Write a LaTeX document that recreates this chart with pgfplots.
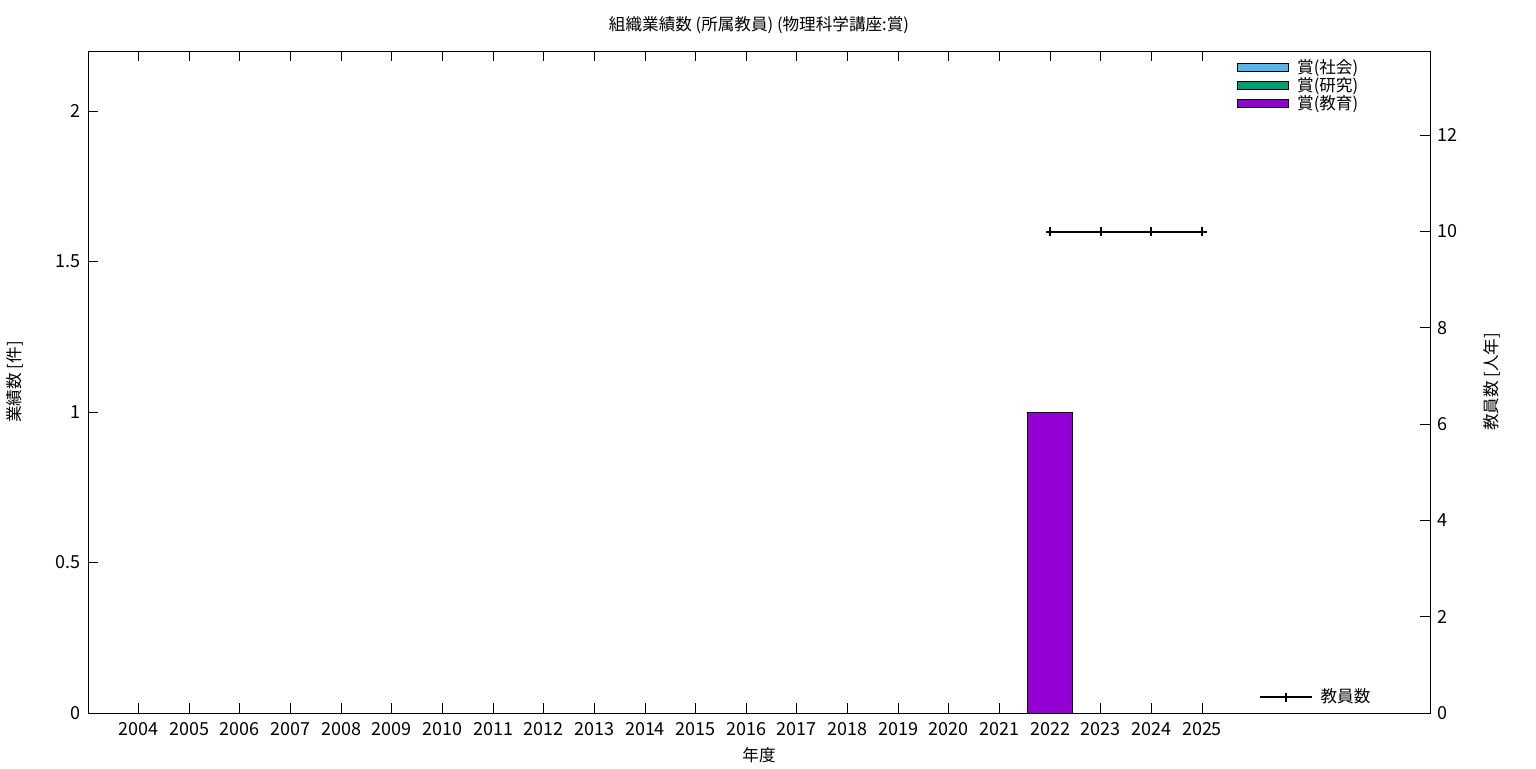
\documentclass[border=0pt]{standalone}
\usepackage{fontspec}
\setmainfont{Noto Sans CJK JP}
\usepackage{pgfplots}
\pgfplotsset{compat=1.18}
\definecolor{cSoc}{HTML}{56B4E9}
\definecolor{cRes}{HTML}{009E73}
\definecolor{cEdu}{HTML}{9400D3}
\begin{document}
\begin{tikzpicture}[font=\fontsize{9}{11}\selectfont]
\useasboundingbox (0,0) rectangle (768pt,384pt);
\begin{axis}[
  at={(44pt,27.5pt)}, anchor=south west,
  scale only axis, width=671pt, height=331pt,
  xmin=2003, xmax=2029.5, ymin=0, ymax=2.2,
  xtick={2004,...,2025},
  xticklabel style={/pgf/number format/1000 sep={}},
  /pgf/number format/assume math mode=true,
  ytick={0,0.5,1,1.5,2},
  yticklabels={0,0.5,1,1.5,2},
  xtick pos=both, ytick pos=left, tick align=inside,
  major tick length=5pt,
  tick style={black, line width=0.5pt},
  axis line style={line width=0.5pt},
  xticklabel style={yshift=-1pt},
  title={組織業績数 (所属教員) (物理科学講座:賞)},
  every axis title/.style={at={(axis description cs:0.5,1.039)}, anchor=center, font=\fontsize{8.3}{10}\selectfont},
  xlabel={年度},
  every axis x label/.style={at={(axis description cs:0.5,-0.063)}, anchor=center, font=\fontsize{8.3}{10}\selectfont},
  ylabel={業績数 [件]},
  every axis y label/.style={at={(axis description cs:-0.0544,0.5)}, anchor=center, rotate=90, font=\fontsize{8.3}{10}\selectfont},
  legend cell align=left,
  legend style={draw=none, fill=none, at={(axis description cs:0.856,0.994)}, anchor=north west, inner sep=0pt, row sep=-3.5pt, font=\fontsize{8.3}{10}\selectfont},
  legend image code/.code={\draw[#1, line width=0.5pt] (0pt,-2pt) rectangle (25.5pt,2pt); \path (27.5pt,0pt);},
]
\addlegendimage{draw=black, fill=cSoc}
\addlegendentry{賞(社会)}
\addlegendimage{draw=black, fill=cRes}
\addlegendentry{賞(研究)}
\addplot[ybar, bar width=0.9, draw=black, fill=cEdu, line width=0.5pt] coordinates {(2022,1)};
\addlegendentry{賞(教育)}
\end{axis}
\begin{axis}[
  at={(44pt,27.5pt)}, anchor=south west,
  scale only axis, width=671pt, height=331pt,
  xmin=2003, xmax=2029.5, ymin=0, ymax=13.75,
  axis x line=none,
  axis y line*=right,
  ytick={0,2,...,12},
  /pgf/number format/assume math mode=true,
  tick align=inside, major tick length=5pt,
  tick style={black, line width=0.5pt},
  axis line style={line width=0.5pt},
  ylabel={教員数 [人年]},
  every axis y label/.style={at={(axis description cs:1.046,0.5)}, anchor=center, rotate=90, font=\fontsize{8.3}{10}\selectfont},
  legend style={draw=none, fill=none, at={(axis description cs:0.872,0.024)}, anchor=west, inner sep=0pt, font=\fontsize{8.3}{10}\selectfont},
  legend image code/.code={\draw[#1] (0pt,0pt) -- (26pt,0pt); \draw[#1, mark repeat=1] plot coordinates {(13pt,0pt)}; \path (28pt,0pt);},
]
\addplot[black, line width=1pt, mark=+, mark size=2.2pt, mark options={line width=1pt}] coordinates {(2022,10) (2023,10) (2024,10) (2025,10)};
\addlegendentry{教員数}
\end{axis}
\end{tikzpicture}
\end{document}
